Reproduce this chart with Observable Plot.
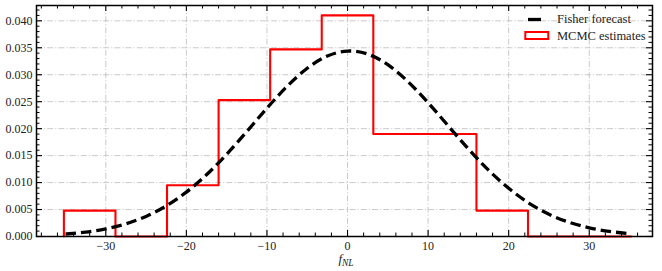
<!DOCTYPE html>
<html><head><meta charset="utf-8">
<script src="https://cdn.jsdelivr.net/npm/d3@7"></script>
<script src="https://cdn.jsdelivr.net/npm/@observablehq/plot@0.6"></script>
<style>body{margin:0;background:#fff}</style>
</head><body><div id="chart"></div>
<script>
// MCMC histogram (density) — bin edges and heights
const binEdges = [-35.2, -28.8, -22.4, -16.0, -9.6, -3.2, 3.2, 9.6, 16.0, 22.4, 28.8, 35.2];
const mcmcDensity = [0.0048, 0, 0.0095, 0.0253, 0.0347, 0.0410, 0.0190, 0.0190, 0.0048, 0, 0];
// Fisher forecast curve
const fisherX = [-35, -32.5, -30, -27.5, -25, -22.5, -20, -17.5, -15, -12.5, -10, -7.5, -5, -2.5, 0,
                 2.5, 5, 7.5, 10, 12.5, 15, 17.5, 20, 22.5, 25, 27.5, 30, 32.5, 35];
const fisherY = [0.00045, 0.00082, 0.00142, 0.00235, 0.00373, 0.00566, 0.00823, 0.01145, 0.01526, 0.01947,
                 0.02380, 0.02785, 0.03120, 0.03347, 0.03439, 0.03383, 0.03186, 0.02873, 0.02481, 0.02052,
                 0.01624, 0.01231, 0.00894, 0.00621, 0.00413, 0.00264, 0.00161, 0.00094, 0.00053];
// Axis ticks
const xTicks = [-30, -20, -10, 0, 10, 20, 30];
const yTicks = [0, 0.005, 0.010, 0.015, 0.020, 0.025, 0.030, 0.035, 0.040];
const legendLabels = ["Fisher forecast", "MCMC estimates"];

const W = 662, H = 271, mL = 36, mR = 10, mT = 5, mB = 35;
const iW = W - mL - mR, iH = H - mT - mB;
const xDomain = [-38.6, 37.85], yDomain = [0, 0.04284];

const xMinor = d3.range(-38, 38, 2).filter(v => !xTicks.includes(v) && v >= xDomain[0] && v <= xDomain[1]);
const yMinor = d3.range(0, 43).map(i => i / 1000).filter(v => v <= yDomain[1] && !yTicks.some(t => Math.abs(t - v) < 1e-9));

// step outline of histogram
const histPts = [{x: binEdges[0], y: 0}];
mcmcDensity.forEach((h, i) => histPts.push({x: binEdges[i], y: h}));
histPts.push({x: binEdges[binEdges.length - 1], y: mcmcDensity[mcmcDensity.length - 1]});
histPts.push({x: binEdges[binEdges.length - 1], y: 0});
const fisher = fisherX.map((x, i) => ({x, y: fisherY[i]}));

const minus = d => d < 0 ? "\u2212" + Math.abs(d) : String(d);
const gridStyle = {stroke: "#bdbdbd", strokeOpacity: 1, strokeWidth: 0.8, strokeDasharray: "6,2,1.2,2"};
const MJ = 6, MN = 3.5;
const FONT = "'Liberation Serif', serif";

const chart = Plot.plot({
  width: W, height: H,
  marginLeft: mL, marginRight: mR, marginTop: mT, marginBottom: mB,
  style: {fontFamily: FONT, fontSize: "12px", background: "white", color: "black"},
  x: {domain: xDomain, label: null},
  y: {domain: yDomain, label: null},
  marks: [
    Plot.gridX(xTicks, gridStyle),
    Plot.gridY(yTicks, gridStyle),
    Plot.line(histPts, {x: "x", y: "y", curve: "step-after", stroke: "#ff0000", strokeWidth: 2.1}),
    Plot.line(fisher, {x: "x", y: "y", curve: "natural", stroke: "black", strokeWidth: 3.3, strokeDasharray: "10.5,5", strokeLinecap: "butt"}),
    // inward ticks, all four sides
    Plot.ruleX(xTicks, {stroke: "black", strokeWidth: 1.1, insetTop: iH - MJ}),
    Plot.ruleX(xTicks, {stroke: "black", strokeWidth: 1.1, insetBottom: iH - MJ}),
    Plot.ruleX(xMinor, {stroke: "black", strokeWidth: 1, insetTop: iH - MN}),
    Plot.ruleX(xMinor, {stroke: "black", strokeWidth: 1, insetBottom: iH - MN}),
    Plot.ruleY(yTicks, {stroke: "black", strokeWidth: 1.1, insetRight: iW - MJ}),
    Plot.ruleY(yTicks, {stroke: "black", strokeWidth: 1.1, insetLeft: iW - MJ}),
    Plot.ruleY(yMinor, {stroke: "black", strokeWidth: 1, insetRight: iW - MN}),
    Plot.ruleY(yMinor, {stroke: "black", strokeWidth: 1, insetLeft: iW - MN}),
    Plot.axisX(xTicks, {tickSize: 0, tickPadding: 5, tickFormat: minus, label: null, fill: "#222"}),
    Plot.axisY(yTicks, {tickSize: 0, tickPadding: 4, tickFormat: d3.format(".3f"), label: null, fill: "#222"}),
    Plot.frame({stroke: "black", strokeWidth: 1.5})
  ]
});
document.getElementById("chart").appendChild(chart);

// x-axis label f_NL and legend
const svg = d3.select(chart);
const lab = svg.append("text").attr("x", mL + iW / 2 + 2).attr("y", 263)
  .attr("text-anchor", "middle").attr("font-family", FONT).attr("fill", "#222");
lab.append("tspan").attr("font-style", "italic").attr("font-size", "13px").text("f");
lab.append("tspan").attr("font-style", "italic").attr("font-size", "9.5px").attr("dy", "3").text("NL");

const lg = svg.append("g").attr("font-family", FONT).attr("font-size", "12.5px")
  .attr("fill", "#222").attr("text-anchor", "start");
lg.append("line").attr("x1", 528).attr("x2", 541).attr("y1", 19.5).attr("y2", 19.5)
  .attr("stroke", "black").attr("stroke-width", 3.3);
lg.append("text").attr("x", 557).attr("y", 23.3).attr("text-anchor", "start").text(legendLabels[0]);
lg.append("rect").attr("x", 525.3).attr("y", 32).attr("width", 23).attr("height", 7)
  .attr("fill", "none").attr("stroke", "#ff0000").attr("stroke-width", 2);
lg.append("text").attr("x", 557).attr("y", 39.5).attr("text-anchor", "start").text(legendLabels[1]);
</script>
</body></html>
